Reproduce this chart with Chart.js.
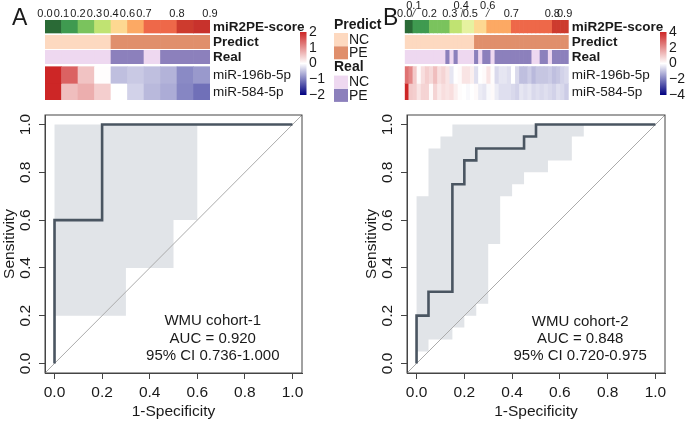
<!DOCTYPE html>
<html>
<head>
<meta charset="utf-8">
<script src="https://cdn.jsdelivr.net/npm/chart.js@4.4.0/dist/chart.umd.min.js"></script>
<style>
  body { margin: 0; background: #fff; width: 685px; height: 421px; position: relative; overflow: hidden; }
  canvas { position: absolute; }
</style>
</head>
<body>
<canvas id="heatA" width="385" height="105" style="left:0;top:0"></canvas>
<canvas id="heatB" width="305" height="105" style="left:380px;top:0"></canvas>
<canvas id="rocA" width="340" height="316" style="left:0;top:105px"></canvas>
<canvas id="rocB" width="323" height="316" style="left:362px;top:105px"></canvas>
<script>
// ---------- data: WMU cohort-1 (panel A) ----------
const scoreA   = [0.03, 0.14, 0.24, 0.36, 0.52, 0.63, 0.72, 0.77, 0.84, 0.91];
const predictA = ['NC','NC','NC','NC','PE','PE','PE','PE','PE','PE'];
const realA    = ['NC','NC','NC','NC','PE','PE','NC','PE','PE','PE'];
const mir196bA = [2.0, 1.45, 0.55, 0.02, -0.5, -0.42, -0.5, -0.6, -0.92, -0.8];
const mir584A  = [2.0, 0.6, 0.75, 0.45, 0.0, -0.35, -0.55, -0.65, -0.95, -1.12];
const scoreTickA    = ['0.0','0.1','0.2','0.3','0.4','0.6','0.7','0.8','0.9'];
const scoreTickColA = [0, 1, 2, 3, 4, 5, 6, 8, 10];
const fprA = [0, 0, 0.2, 0.2, 1];
const tprA = [0, 0.6, 0.6, 1, 1];
const ciUpXA = [0, 0.6];            const ciUpYA = [1.0];
const ciLoXA = [0, 0.3, 0.5, 0.6];  const ciLoYA = [0.2, 0.4, 0.6];

// ---------- data: WMU cohort-2 (panel B) ----------
const scoreB = [0.02, 0.06, 0.11, 0.13, 0.15, 0.18, 0.21, 0.23, 0.25, 0.27,
                0.29, 0.31, 0.34, 0.37, 0.41, 0.44, 0.48, 0.51, 0.54, 0.58,
                0.61, 0.63, 0.65, 0.67, 0.68, 0.69, 0.70, 0.71, 0.72, 0.73,
                0.74, 0.75, 0.76, 0.77, 0.78, 0.79, 0.81, 0.83, 0.86, 0.89];
const predictB = ['NC','NC','NC','NC','NC','NC','NC','NC','NC','NC',
                  'NC','NC','NC','NC','NC','NC','NC','PE','PE','PE',
                  'PE','PE','PE','PE','PE','PE','PE','PE','PE','PE',
                  'PE','PE','PE','PE','PE','PE','PE','PE','PE','PE'];
const realB    = ['NC','NC','NC','NC','NC','NC','NC','NC','NC','NC',
                  'PE','NC','PE','NC','NC','NC','NC','PE','NC','PE',
                  'PE','NC','PE','PE','PE','PE','PE','PE','PE','PE',
                  'PE','NC','NC','PE','PE','NC','PE','PE','PE','PE'];
const mir196bB = [2.6, 2.2, 1.0, 0.1, 0.6, 0.9, 0.7, 1.2, 0.6, 0.8,
                  0.5, -0.4, 0.0, 0.1, 0.5, 0.5, 0.3, -0.5, 0.0, 0.1,
                  0.5, 0.05, -0.6, -0.4, -0.4, -0.5, 0.0, -0.6, -1.0, -1.0,
                  -0.8, -1.1, -0.9, -0.9, -0.9, -0.8, -1.0, -0.9, -0.7, -0.6];
const mir584B  = [4.0, 1.0, 0.9, 0.5, 0.8, 0.8, 0.1, 0.8, 0.4, 0.6,
                  0.5, 0.6, 0.3, 0.05, 0.0, -0.1, 0.0, 0.1, -0.3, -0.4,
                  -0.1, 0.1, -0.3, -0.5, -0.5, -0.5, -0.6, -0.7, -0.4, -0.5,
                  -0.4, -0.6, -0.5, -0.6, -0.5, -0.6, -0.7, -0.5, -0.6, -0.8];
const scoreTickB    = ['0.0','0.1','0.2','0.3','0.4','0.5','0.6','0.7','0.8','0.9'];
const scoreTickColB = [0, 2, 6, 11, 14, 16, 20, 26, 36, 39];
const fprB = [0, 0, 0.05, 0.05, 0.15, 0.15, 0.2, 0.2, 0.25, 0.25, 0.45, 0.45, 0.5, 0.5, 1];
const tprB = [0, 0.2, 0.2, 0.3, 0.3, 0.75, 0.75, 0.85, 0.85, 0.9, 0.9, 0.95, 0.95, 1, 1];
const ciUpXB = [0, 0.05, 0.1, 0.15, 0.7];
const ciUpYB = [0.7, 0.9, 0.95, 1.0];
const ciLoXB = [0, 0.05, 0.15, 0.2, 0.25, 0.3, 0.35, 0.4, 0.45, 0.55, 0.65, 0.7];
const ciLoYB = [0.05, 0.1, 0.15, 0.2, 0.25, 0.5, 0.7, 0.75, 0.8, 0.85, 0.95];

const rocTicks = [0, 0.2, 0.4, 0.6, 0.8, 1.0];

// ---------- styles ----------
const FONT = '"Liberation Sans", Arial, Helvetica, sans-serif';
const TXT = '#1a1a1a';
const scorePalette = ['#2a6a36','#3f9a50','#7ac35d','#c0e372','#e6f2a0',
                      '#fdd891','#fca964','#ee6849','#cd3b2e','#c8322c'];
const groupColors = {
  Predict: { NC: '#fdd9c0', PE: '#e08f6c' },
  Real:    { NC: '#eed8f0', PE: '#8c80bc' }
};
function heatColor(v, max) {
  const t = Math.min(Math.abs(v) / max, 1);
  const to = v >= 0 ? [205, 38, 38] : [0, 0, 128];
  return 'rgb(' + to.map(c => Math.round(255 + (c - 255) * t)).join(',') + ')';
}

// ---------- heatmap (floating bars on a category axis) ----------
function drawHeat(id, o) {
  const n = o.scores.length;
  const rows = [
    { name: 'miR2PE-score', bold: true, span: [0, 13],
      colors: o.scores.map(s => scorePalette[Math.min(9, Math.floor(s * 10))]) },
    { name: 'Predict', bold: true, span: [15.3, 28.7], colors: o.predict.map(p => groupColors.Predict[p]) },
    { name: 'Real', bold: true, span: [30.3, 43.7], colors: o.real.map(p => groupColors.Real[p]) },
    { name: 'miR-196b-5p', span: [46.7, 63.3], colors: o.mir196b.map(v => heatColor(v, o.max)) },
    { name: 'miR-584-5p', span: [63.3, 80], colors: o.mir584.map(v => heatColor(v, o.max)) }
  ];

  const labelsPlugin = {
    id: 'heatText',
    afterDraw(chart) {
      const ctx = chart.ctx, a = chart.chartArea, ys = chart.scales.y;
      ctx.save();
      ctx.fillStyle = TXT;
      // panel letter
      ctx.font = '23px ' + FONT;
      ctx.textBaseline = 'alphabetic';
      ctx.textAlign = 'left';
      ctx.fillText(o.letter, o.letterX, 25);
      // row names
      ctx.textBaseline = 'middle';
      rows.forEach(r => {
        ctx.font = (r.bold ? 'bold ' : '') + '13.5px ' + FONT;
        ctx.fillText(r.name, a.right + 3, ys.getPixelForValue((r.span[0] + r.span[1]) / 2) + 0.5);
      });
      // score column labels
      const colW = (a.right - a.left) / n;
      ctx.font = '11px ' + FONT;
      ctx.textAlign = 'center';
      ctx.strokeStyle = '#333';
      ctx.lineWidth = 0.8;
      o.ticks.forEach((t, i) => {
        const bx = a.left + o.tickCols[i] * colW;
        if (o.raised && o.raised[i] !== undefined) {
          const dx = o.raised[i];
          ctx.fillText(t, bx + dx, 5.5);
          ctx.beginPath();
          ctx.moveTo(bx + dx + (dx ? 2 : 1), 9);
          ctx.lineTo(bx + (dx ? -1 : 1), 17);
          ctx.stroke();
        } else {
          ctx.fillText(t, bx, 14);
        }
      });
      // colour key
      const g = ctx.createLinearGradient(0, 32, 0, 95);
      g.addColorStop(0, heatColor(o.max, o.max));
      g.addColorStop(0.5, '#ffffff');
      g.addColorStop(1, heatColor(-o.max, o.max));
      ctx.fillStyle = g;
      ctx.fillRect(o.barX, 32, 6.5, 63);
      ctx.fillStyle = TXT;
      ctx.font = '14px ' + FONT;
      ctx.textAlign = 'left';
      o.barTicks.forEach((t, i) => {
        const y = 32 + i * 63 / (o.barTicks.length - 1);
        ctx.fillText(t, o.barX + 9, y);
      });
      // annotation legend
      if (o.legend) {
        let y = 25;
        ['Predict', 'Real'].forEach(grp => {
          ctx.font = 'bold 14px ' + FONT;
          ctx.fillStyle = TXT;
          ctx.fillText(grp, o.legendX, y);
          y += 8;
          ['NC', 'PE'].forEach(k => {
            ctx.fillStyle = groupColors[grp][k];
            ctx.fillRect(o.legendX, y, 14, 13);
            ctx.fillStyle = TXT;
            ctx.font = '14px ' + FONT;
            ctx.fillText(k, o.legendX + 15, y + 7);
            y += 13.3;
          });
          y += 8;
        });
      }
      ctx.restore();
    }
  };

  new Chart(document.getElementById(id), {
    type: 'bar',
    data: {
      labels: o.scores.map((_, i) => 'S' + (i + 1)),
      datasets: rows.map(r => ({
        label: r.name,
        data: o.scores.map(() => r.span),
        backgroundColor: r.colors,
        borderWidth: 0,
        barPercentage: 1,
        categoryPercentage: 1,
        grouped: false
      }))
    },
    options: {
      responsive: false,
      animation: false,
      events: [],
      layout: { padding: o.pad },
      plugins: { legend: { display: false }, tooltip: { enabled: false } },
      scales: {
        x: { display: false, offset: true },
        y: { display: false, min: 0, max: 80, reverse: true }
      }
    },
    plugins: [labelsPlugin]
  });
}

// ---------- ROC panel ----------
function drawRoc(id, o) {
  // confidence band outline: upper steps left->right, lower steps right->left
  const band = [{ x: o.upX[0], y: o.loY[0] }];
  o.upY.forEach((v, i) => band.push({ x: o.upX[i], y: v }, { x: o.upX[i + 1], y: v }));
  for (let i = o.loY.length - 1; i >= 0; i--) band.push({ x: o.loX[i + 1], y: o.loY[i] }, { x: o.loX[i], y: o.loY[i] });
  const lo = -0.04, hi = 1.04;

  const rocText = {
    id: 'rocText',
    afterDraw(chart) {
      const ctx = chart.ctx, a = chart.chartArea, xs = chart.scales.x, ys = chart.scales.y;
      ctx.save();
      ctx.strokeStyle = '#444';
      ctx.lineWidth = 1;
      ctx.strokeRect(a.left, a.top, a.right - a.left, a.bottom - a.top);
      ctx.fillStyle = TXT;
      ctx.font = '15.5px ' + FONT;
      ctx.textAlign = 'center';
      ctx.textBaseline = 'middle';
      rocTicks.forEach(v => {
        ctx.save();
        ctx.translate(a.left - 19, ys.getPixelForValue(v));
        ctx.rotate(-Math.PI / 2);
        ctx.fillText(v.toFixed(1), 0, 0);
        ctx.restore();
      });
      ctx.font = '15px ' + FONT;
      o.note.forEach((t, i) => {
        ctx.fillText(t, xs.getPixelForValue(o.noteX), ys.getPixelForValue(o.noteY[i]));
      });
      ctx.restore();
    }
  };

  new Chart(document.getElementById(id), {
    type: 'line',
    data: {
      datasets: [
        { data: band, fill: 'shape', backgroundColor: '#e1e4e8', borderWidth: 0, pointRadius: 0, order: 3 },
        { data: [{ x: lo, y: lo }, { x: hi, y: hi }], borderColor: '#ababab', borderWidth: 1, pointRadius: 0, fill: false, order: 2 },
        { data: o.fpr.map((f, i) => ({ x: f, y: o.tpr[i] })), borderColor: '#4a5561', borderWidth: 2.6,
          pointRadius: 0, fill: false, order: 1, borderJoinStyle: 'miter' }
      ]
    },
    options: {
      responsive: false,
      animation: false,
      events: [],
      layout: { padding: { top: 10, right: o.padRight, left: 0, bottom: 0 } },
      plugins: { legend: { display: false }, tooltip: { enabled: false } },
      scales: {
        x: {
          type: 'linear', min: lo, max: hi,
          afterBuildTicks: s => { s.ticks = rocTicks.map(v => ({ value: v })); },
          afterFit: s => { s.height = 48; },
          ticks: { callback: v => v.toFixed(1), color: TXT, font: { family: FONT, size: 15.5 }, padding: 4, maxRotation: 0 },
          grid: { drawOnChartArea: false, tickLength: 6, color: '#444' },
          border: { color: '#444' },
          title: { display: true, text: '1-Specificity', color: TXT, font: { family: FONT, size: 15.5 }, padding: { top: 0, bottom: 0 } }
        },
        y: {
          type: 'linear', min: lo, max: hi,
          afterBuildTicks: s => { s.ticks = rocTicks.map(v => ({ value: v })); },
          afterFit: s => { s.width = 45; },
          ticks: { display: false },
          grid: { drawOnChartArea: false, tickLength: 6, color: '#444' },
          border: { color: '#444' },
          title: { display: true, text: 'Sensitivity', color: TXT, font: { family: FONT, size: 15.5 }, padding: { top: 0, bottom: 0 } }
        }
      }
    },
    plugins: [rocText]
  });
}

drawHeat('heatA', {
  letter: 'A', letterX: 12, scores: scoreA, predict: predictA, real: realA,
  mir196b: mir196bA, mir584: mir584A, max: 2, ticks: scoreTickA, tickCols: scoreTickColA,
  barX: 300, barTicks: ['2', '1', '0', '\u22121', '\u22122'],
  legend: true, legendX: 334,
  pad: { left: 45, right: 175, top: 20, bottom: 5 }
});
drawHeat('heatB', {
  letter: 'B', letterX: 3, scores: scoreB, predict: predictB, real: realB,
  mir196b: mir196bB, mir584: mir584B, max: 4, ticks: scoreTickB, tickCols: scoreTickColB,
  raised: [undefined, 1, undefined, undefined, -1, undefined, 1],
  barX: 280, barTicks: ['4', '2', '0', '\u22122', '\u22124'],
  legend: false,
  pad: { left: 24.7, right: 116.3, top: 20, bottom: 5 }
});
drawRoc('rocA', {
  fpr: fprA, tpr: tprA, upX: ciUpXA, upY: ciUpYA, loX: ciLoXA, loY: ciLoYA, padRight: 38,
  note: ['WMU cohort-1', 'AUC = 0.920', '95% CI 0.736-1.000'], noteX: 0.665, noteY: [0.18, 0.105, 0.03]
});
drawRoc('rocB', {
  fpr: fprB, tpr: tprB, upX: ciUpXB, upY: ciUpYB, loX: ciLoXB, loY: ciLoYB, padRight: 20,
  note: ['WMU cohort-2', 'AUC = 0.848', '95% CI 0.720-0.975'], noteX: 0.685, noteY: [0.175, 0.105, 0.03]
});
</script>
</body>
</html>
